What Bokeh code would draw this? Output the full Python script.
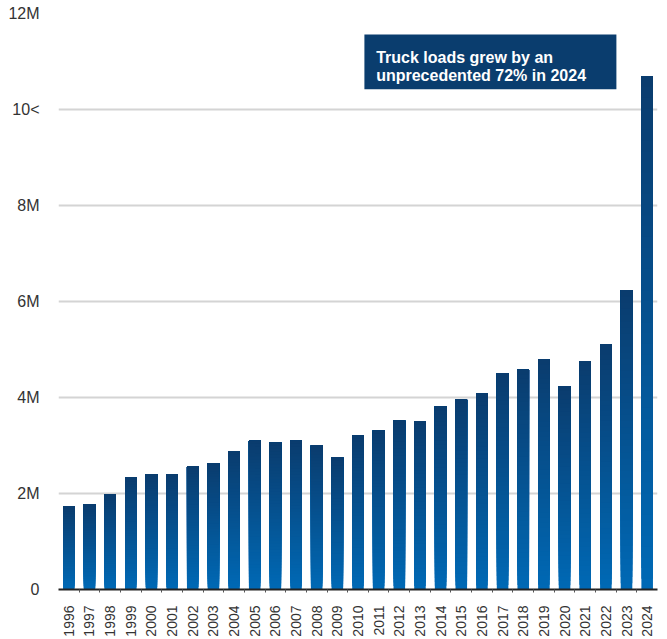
import math
from bokeh.plotting import figure
from bokeh.models import FixedTicker, BoxAnnotation, Label, Range1d
from bokeh.embed import file_html
from bokeh.resources import INLINE

years = [str(y) for y in range(1996, 2025)]
loads = [1.73, 1.77, 1.98, 2.34, 2.40, 2.40, 2.57, 2.63, 2.88, 3.10,
         3.06, 3.10, 3.00, 2.75, 3.21, 3.31, 3.52, 3.51, 3.81, 3.96,
         4.08, 4.50, 4.58, 4.79, 4.23, 4.76, 5.11, 6.24, 10.69]
loads = [v * 1e6 for v in loads]
y_ticks = [0, 2e6, 4e6, 6e6, 8e6, 10e6, 12e6]
y_tick_labels = ["0", "2M", "4M", "6M", "8M", "10<", "12M"]
note_lines = ["Truck loads grew by an", "unprecedented 72% in 2024"]

FONT = "Liberation Sans"
TOP = (10, 60, 110)
BOTTOM = (0, 105, 181)
N = 48

p = figure(width=667, height=639, output_backend="svg", toolbar_location=None,
           x_range=Range1d(-0.5, len(years) - 0.5), y_range=Range1d(0, 12e6),
           min_border_left=58, min_border_right=10, min_border_top=13,
           min_border_bottom=0)
p.outline_line_color = None
p.background_fill_color = "white"

idx = list(range(len(years)))
for j in range(N):
    t = j / (N - 1)
    col = "#%02x%02x%02x" % tuple(int(round(BOTTOM[k] + (TOP[k] - BOTTOM[k]) * t)) for k in range(3))
    bottoms = [v * j / N for v in loads]
    p.vbar(x=idx, top=loads, bottom=bottoms, width=0.56, fill_color=col, line_color=None)

# axes
p.xaxis.ticker = FixedTicker(ticks=idx, minor_ticks=[i + 0.5 for i in idx[:-1]])
p.xaxis.major_label_overrides = {i: y for i, y in enumerate(years)}
p.xaxis.major_label_orientation = math.pi / 2
p.xaxis.major_label_text_font = FONT
p.xaxis.major_label_text_font_size = "14px"
p.xaxis.major_label_text_color = "#333333"
p.xaxis.major_label_standoff = 10
p.xaxis.axis_line_color = "#222222"
p.xaxis.axis_line_width = 2
p.xaxis.major_tick_line_color = None
p.xaxis.minor_tick_line_color = "#555555"
p.xaxis.minor_tick_out = 3
p.xaxis.minor_tick_in = 0

p.yaxis.ticker = FixedTicker(ticks=y_ticks)
p.yaxis.major_label_overrides = {t: l for t, l in zip(y_ticks, y_tick_labels)}
p.yaxis.major_label_text_font = FONT
p.yaxis.major_label_text_font_size = "16px"
p.yaxis.major_label_text_color = "#333333"
p.yaxis.axis_line_color = None
p.yaxis.major_tick_line_color = None
p.yaxis.minor_tick_line_color = None
p.yaxis.major_label_standoff = 13

p.xgrid.grid_line_color = None
p.ygrid.grid_line_color = "#d4d4d4"
p.ygrid.grid_line_width = 2

# annotation
box = BoxAnnotation(left=14.31, right=26.51, top=11.56e6, bottom=10.42e6,
                    fill_color="#0a3d6e", fill_alpha=1.0, line_color=None, level="overlay")
p.add_layout(box)
for txt, yy in zip(note_lines, [11.09e6, 10.71e6]):
    p.add_layout(Label(x=14.88, y=yy, text=txt, text_font=FONT, text_font_size="16px",
                       text_font_style="bold", text_color="white",
                       text_baseline="alphabetic", level="overlay"))

open("out.html", "w").write(file_html(p, INLINE))
